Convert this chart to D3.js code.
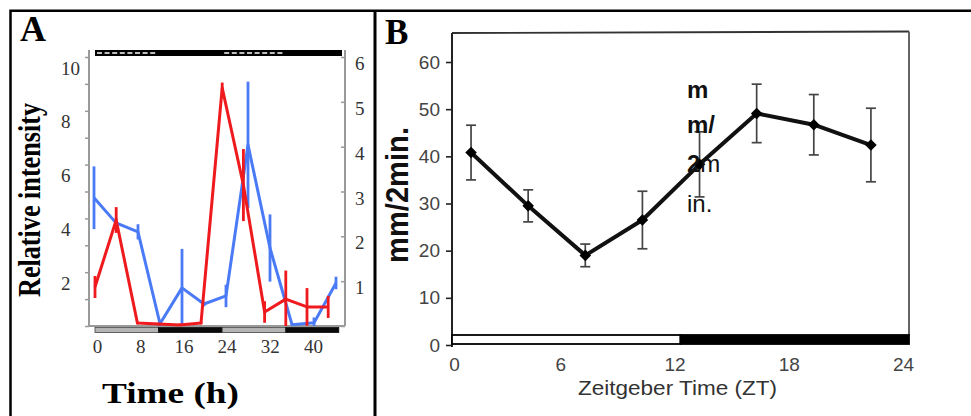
<!DOCTYPE html>
<html>
<head>
<meta charset="utf-8">
<script src="https://cdn.jsdelivr.net/npm/d3@7"></script>
<style>
  body { margin: 0; background: #fff; }
  svg { display: block; }
</style>
</head>
<body>
<svg id="fig" width="971" height="416"></svg>
<script>
// ---------- Panel A: relative intensity of two transcripts over 44 h ----------
const timesA = [0, 4, 8, 12, 16, 20, 24, 28, 32, 36, 40, 44];
// blue trace, read on the right-hand axis (0–6)
const blueMean = [2.86, 2.30, 2.10, 0.05, 0.85, 0.49, 0.67, 4.04, 1.74, 0.03, 0.07, 0.96];
const blueErr  = [0.70, 0.10, 0.17, 0.05, 0.87, 0.05, 0.25, 1.41, 0.75, 0.02, 0.12, 0.14];
// red trace, read on the left-hand axis (0–10)
const redMean  = [1.45, 3.94, 0.11, 0.07, 0.04, 0.11, 8.85, 5.24, 0.52, 1.00, 0.71, 0.71];
const redErr   = [0.41, 0.48, 0.05, 0.05, 0.05, 0.05, 0.20, 1.34, 0.40, 1.06, 0.70, 0.41];
const leftTicksA  = [0, 1, 2, 3, 4, 5, 6, 7, 8, 9, 10];
const rightTicksA = [0, 1, 2, 3, 4, 5, 6];
const timeTicksA  = [0, 8, 16, 24, 32, 40];
// light/dark schedule (h)
const phasesA = [
  { from: 0,  to: 12,   light: true },
  { from: 12, to: 24,   light: false },
  { from: 24, to: 36,   light: true },
  { from: 36, to: 46,   light: false }
];
const topBarEndA = 46.6;

// ---------- Panel B: activity across the day ----------
const ztTimes     = [1, 4, 7, 10, 13, 16, 19, 22];
const activity    = [40.8, 29.5, 19.0, 26.5, 38.3, 49.1, 46.7, 42.4];
const activitySem = [5.8, 3.4, 2.4, 6.1, 6.9, 6.2, 6.4, 7.8];
const yTicksB = [0, 10, 20, 30, 40, 50, 60];
const xTicksB = [0, 6, 12, 18, 24];
const phasesB = [
  { from: 0,  to: 12, light: true },
  { from: 12, to: 24, light: false }
];

const SERIF = "'Liberation Serif', 'Times New Roman', serif";
const SANS  = "'Liberation Sans', Arial, Helvetica, sans-serif";

const svg = d3.select("#fig");

// figure frame and panel divider
svg.append("path")
  .attr("d", "M10.5,416 V10.75 H971")
  .attr("fill", "none").attr("stroke", "#000").attr("stroke-width", 2.5);
svg.append("line")
  .attr("x1", 375).attr("x2", 375).attr("y1", 10).attr("y2", 416)
  .attr("stroke", "#000").attr("stroke-width", 3);

// ================= Panel A =================
const boxA = { left: 89, right: 345, top: 50, bottom: 326 };
const yLeft  = d3.scaleLinear().domain([0, 10]).range([boxA.bottom, 57]);
const yRight = d3.scaleLinear().domain([0, 6]).range([boxA.bottom, 57]);
const xBlue  = d3.scaleLinear().domain([0, 44]).range([94, 336]);
const xRed   = d3.scaleLinear().domain([0, 44]).range([95, 328.2]);
const xLabelA = d3.scaleLinear().domain([0, 40]).range([97, 313]);

const gA = svg.append("g");
const axisGrey = "#9a9a9a";

// frame lines of the plot
gA.append("line")
  .attr("x1", boxA.left).attr("x2", boxA.left).attr("y1", boxA.top).attr("y2", boxA.bottom)
  .attr("stroke", axisGrey).attr("stroke-width", 2);
gA.append("line")
  .attr("x1", boxA.right).attr("x2", boxA.right).attr("y1", boxA.top).attr("y2", boxA.bottom)
  .attr("stroke", axisGrey).attr("stroke-width", 2);
gA.append("line")
  .attr("x1", boxA.left).attr("x2", boxA.right).attr("y1", boxA.bottom).attr("y2", boxA.bottom)
  .attr("stroke", axisGrey).attr("stroke-width", 2);

// left axis (0–10)
const axL = gA.append("g").attr("transform", `translate(${boxA.left},0)`)
  .call(d3.axisLeft(yLeft).tickValues(leftTicksA).tickSize(4)
    .tickFormat(d => (d > 0 && d % 2 === 0) ? d : ""));
axL.select(".domain").remove();
axL.selectAll(".tick line").attr("stroke", axisGrey).attr("stroke-width", 1.5);
axL.selectAll(".tick text")
  .attr("x", -28).attr("text-anchor", "start")
  .attr("transform", "translate(0,11)")
  .attr("font-family", SERIF).attr("font-size", 19).attr("fill", "#333");

// right axis (0–6), ticks pointing inward
const axR = gA.append("g").attr("transform", `translate(${boxA.right},0)`)
  .call(d3.axisRight(yRight).tickValues(rightTicksA).tickSizeInner(-4).tickSizeOuter(0)
    .tickFormat(d => d > 0 ? d : ""));
axR.select(".domain").remove();
axR.selectAll(".tick line").attr("stroke", axisGrey).attr("stroke-width", 1.5);
axR.selectAll(".tick text")
  .attr("x", 10).attr("text-anchor", "start")
  .attr("transform", "translate(0,6.5)")
  .attr("font-family", SERIF).attr("font-size", 19).attr("fill", "#333");

// time axis labels
const axT = gA.append("g").attr("transform", `translate(0,${boxA.bottom})`)
  .call(d3.axisBottom(xLabelA).tickValues(timeTicksA).tickSize(0).tickPadding(14));
axT.select(".domain").remove();
axT.selectAll(".tick text")
  .attr("font-family", SERIF).attr("font-size", 19).attr("fill", "#333");

// top light/dark bar: black with dashed light intervals
gA.append("rect")
  .attr("x", xRed(0)).attr("y", 50)
  .attr("width", xRed(topBarEndA) - xRed(0)).attr("height", 6)
  .attr("fill", "#000");
gA.selectAll(".topLight").data(phasesA.filter(p => p.light)).join("line")
  .attr("x1", p => xRed(p.from) + 2).attr("x2", p => xRed(p.to) - 2)
  .attr("y1", 53).attr("y2", 53)
  .attr("stroke", "#fff").attr("stroke-width", 1.6)
  .attr("stroke-dasharray", "5,2.6");

// bottom light/dark bar
gA.selectAll(".ldA").data(phasesA).join("rect")
  .attr("x", p => xRed(p.from)).attr("y", 327.5)
  .attr("width", p => xRed(p.to) - xRed(p.from)).attr("height", 5)
  .attr("fill", p => p.light ? "#b4b4b4" : "#0a0a0a")
  .attr("stroke", p => p.light ? "#444" : "#0a0a0a").attr("stroke-width", 0.8);

// series
const seriesA = [
  { color: "#ee1a1e", x: xRed,  y: yLeft,  mean: redMean,  err: redErr },
  { color: "#4a7af5", x: xBlue, y: yRight, mean: blueMean, err: blueErr }
];
// draw blue first so red sits on top where they cross
[seriesA[1], seriesA[0]].forEach(s => {
  const pts = timesA.map((t, i) => ({ t, m: s.mean[i], e: s.err[i] }));
  gA.append("g").selectAll("line").data(pts).join("line")
    .attr("x1", d => s.x(d.t)).attr("x2", d => s.x(d.t))
    .attr("y1", d => s.y(d.m + d.e))
    .attr("y2", d => Math.min(s.y(Math.max(d.m - d.e, 0)), boxA.bottom))
    .attr("stroke", s.color).attr("stroke-width", 2.8);
  gA.append("path").datum(pts)
    .attr("d", d3.line().x(d => s.x(d.t)).y(d => s.y(d.m)))
    .attr("fill", "none").attr("stroke", s.color)
    .attr("stroke-width", 3).attr("stroke-linejoin", "round");
});

// panel A texts
gA.append("text").text("A")
  .attr("x", 20).attr("y", 41)
  .attr("font-family", SERIF).attr("font-weight", "bold").attr("font-size", 36);
gA.append("text").text("Relative intensity")
  .attr("transform", "translate(40,200) rotate(-90)")
  .attr("text-anchor", "middle")
  .attr("textLength", 194).attr("lengthAdjust", "spacingAndGlyphs")
  .attr("font-family", SERIF).attr("font-weight", "bold").attr("font-size", 31);
gA.append("text").text("Time (h)")
  .attr("x", 170.5).attr("y", 403)
  .attr("text-anchor", "middle")
  .attr("textLength", 137).attr("lengthAdjust", "spacingAndGlyphs")
  .attr("font-family", SERIF).attr("font-weight", "bold").attr("font-size", 29);

// ================= Panel B =================
const boxB = { left: 452, right: 909, top: 33, bottom: 345 };
const xB = d3.scaleLinear().domain([0, 24]).range([boxB.left, boxB.right]);
const yB = d3.scaleLinear().domain([0, 60]).range([boxB.bottom, 62]);
const gB = svg.append("g");

// plot frame (top and right)
gB.append("line")
  .attr("x1", boxB.left).attr("x2", boxB.right).attr("y1", boxB.top).attr("y2", boxB.top - 1.5)
  .attr("stroke", "#333").attr("stroke-width", 1.8);
gB.append("line")
  .attr("x1", boxB.right).attr("x2", boxB.right).attr("y1", boxB.top - 1.5).attr("y2", 336)
  .attr("stroke", "#555").attr("stroke-width", 1.8);
gB.append("line")
  .attr("x1", boxB.left).attr("x2", boxB.left).attr("y1", boxB.top).attr("y2", boxB.bottom + 2)
  .attr("stroke", "#222").attr("stroke-width", 2);

// y axis
const ayB = gB.append("g").attr("transform", `translate(${boxB.left},0)`)
  .call(d3.axisLeft(yB).tickValues(yTicksB).tickSize(6).tickPadding(6));
ayB.select(".domain").remove();
ayB.selectAll(".tick line").attr("stroke", "#222").attr("stroke-width", 1.6);
ayB.selectAll(".tick text")
  .attr("font-family", SANS).attr("font-size", 19).attr("fill", "#444");

// x axis labels
const axB = gB.append("g").attr("transform", `translate(0,${boxB.bottom})`)
  .call(d3.axisBottom(xB).tickValues(xTicksB).tickSize(0).tickPadding(13));
axB.select(".domain").remove();
axB.selectAll(".tick text")
  .attr("dx", d => d === 0 ? 2 : -6)
  .attr("font-family", SANS).attr("font-size", 19).attr("fill", "#444");

// light/dark bar
gB.selectAll(".ldB").data(phasesB).join("rect")
  .attr("x", p => xB(p.from)).attr("y", 335)
  .attr("width", p => xB(p.to) - xB(p.from)).attr("height", 9)
  .attr("fill", p => p.light ? "#fff" : "#000")
  .attr("stroke", "#000").attr("stroke-width", 1.8);

// error bars with caps
const ptsB = ztTimes.map((t, i) => ({ t, m: activity[i], e: activitySem[i] }));
const eb = gB.append("g").attr("stroke", "#444").attr("stroke-width", 1.7);
eb.selectAll(".v").data(ptsB).join("line")
  .attr("x1", d => xB(d.t)).attr("x2", d => xB(d.t))
  .attr("y1", d => yB(d.m + d.e)).attr("y2", d => yB(d.m - d.e));
eb.selectAll(".capHi").data(ptsB).join("line")
  .attr("x1", d => xB(d.t) - 5).attr("x2", d => xB(d.t) + 5)
  .attr("y1", d => yB(d.m + d.e)).attr("y2", d => yB(d.m + d.e));
eb.selectAll(".capLo").data(ptsB).join("line")
  .attr("x1", d => xB(d.t) - 5).attr("x2", d => xB(d.t) + 5)
  .attr("y1", d => yB(d.m - d.e)).attr("y2", d => yB(d.m - d.e));

// mean line and markers
gB.append("path").datum(ptsB)
  .attr("d", d3.line().x(d => xB(d.t)).y(d => yB(d.m)))
  .attr("fill", "none").attr("stroke", "#111").attr("stroke-width", 4)
  .attr("stroke-linejoin", "round");
gB.selectAll(".mk").data(ptsB).join("path")
  .attr("transform", d => `translate(${xB(d.t)},${yB(d.m)})`)
  .attr("d", d3.symbol().type(d3.symbolDiamond2).size(85))
  .attr("fill", "#000");

// panel B texts
gB.append("text").text("B")
  .attr("x", 385).attr("y", 44)
  .attr("font-family", SERIF).attr("font-weight", "bold").attr("font-size", 35);
gB.append("text").text("mm/2min.")
  .attr("transform", "translate(408,195) rotate(-90)")
  .attr("text-anchor", "middle")
  .attr("textLength", 136).attr("lengthAdjust", "spacingAndGlyphs")
  .attr("font-family", SANS).attr("font-weight", "bold").attr("font-size", 32).attr("fill", "#111");
gB.append("text").text("Zeitgeber Time (ZT)")
  .attr("x", 677.5).attr("y", 395)
  .attr("text-anchor", "middle")
  .attr("textLength", 199).attr("lengthAdjust", "spacingAndGlyphs")
  .attr("font-family", SANS).attr("font-size", 21).attr("fill", "#333");

// wrapped unit label inside the plot
const wrapLines = [
  [{ s: "m",  b: true }],
  [{ s: "m/", b: true }],
  [{ s: "2",  b: true }, { s: "m", b: false }],
  [{ s: "in.", b: false }]
];
const wrapY = [98, 133, 172, 212];
const wrap = gB.append("text")
  .attr("font-family", SANS).attr("font-size", 24).attr("fill", "#111");
wrapLines.forEach((line, i) => {
  line.forEach((part, j) => {
    const ts = wrap.append("tspan").text(part.s)
      .attr("font-weight", part.b ? "bold" : "normal");
    if (j === 0) ts.attr("x", 687).attr("y", wrapY[i]);
  });
});
</script>
</body>
</html>
